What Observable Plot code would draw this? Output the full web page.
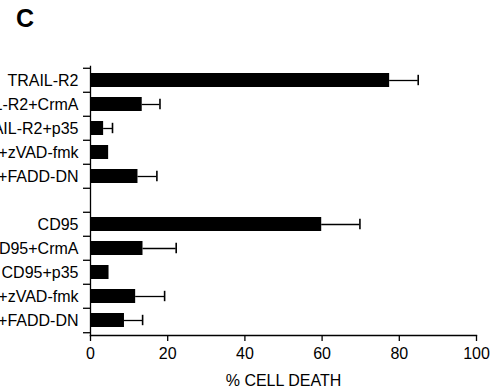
<!DOCTYPE html>
<html>
<head>
<meta charset="utf-8">
<script src="https://cdn.jsdelivr.net/npm/d3@7"></script>
<script src="https://cdn.jsdelivr.net/npm/@observablehq/plot@0.6"></script>
<style>
  html, body { margin: 0; padding: 0; background: white; }
  #wrap { position: relative; width: 502px; height: 392px; overflow: hidden; }
  #title { position: absolute; left: 16px; top: 4px; font: bold 25px "Liberation Sans", Arial, sans-serif; color: black; z-index: 2; }
  #chart { position: absolute; left: 0; top: 0; }
</style>
</head>
<body>
<div id="wrap">
  <div id="title">C</div>
  <div id="chart"></div>
</div>
<script>
// Categories in display order (the blank entry is the gap between the two groups)
const categories = [
  "TRAIL-R2", "TRAIL-R2+CrmA", "TRAIL-R2+p35", "TRAIL-R2+zVAD-fmk", "TRAIL-R2+FADD-DN",
  "",
  "CD95", "CD95+CrmA", "CD95+p35", "CD95+zVAD-fmk", "CD95+FADD-DN"
];
const barLabels = [
  "TRAIL-R2", "TRAIL-R2+CrmA", "TRAIL-R2+p35", "TRAIL-R2+zVAD-fmk", "TRAIL-R2+FADD-DN",
  "CD95", "CD95+CrmA", "CD95+p35", "CD95+zVAD-fmk", "CD95+FADD-DN"
];
const cellDeath = [77.5, 13.4, 3.4, 4.7, 12.3, 59.9, 13.6, 4.8, 11.7, 8.8];
const errorSD   = [7.4, 4.6, 2.3, 0, 4.9, 9.9, 8.6, 0, 7.5, 4.7];
const xTicks = [0, 20, 40, 60, 80, 100];
const xLabel = "% CELL DEATH";

const data = barLabels.map((label, i) => ({label, value: cellDeath[i], err: errorSD[i]}));
const withErr = data.filter(d => d.err > 0);

const W = 502, H = 392, mL = 90, mR = 26, mT = 66, mB = 57;
const step = (H - mT - mB) / categories.length;

const plot = Plot.plot({
  width: W, height: H,
  marginLeft: mL, marginRight: mR, marginTop: mT, marginBottom: mB,
  style: {fontFamily: "'Liberation Sans', Arial, sans-serif", fontSize: "16px", color: "black", background: "transparent", overflow: "visible"},
  x: {domain: [0, 100]},
  y: {domain: categories, paddingInner: 0.4, paddingOuter: 0.2},
  marks: [
    Plot.barX(data, {x: "value", y: "label", fill: "black"}),
    Plot.ruleY(withErr, {y: "label", x1: "value", x2: d => d.value + d.err, stroke: "black", strokeWidth: 1.3}),
    Plot.tickX(withErr, {x: d => d.value + d.err, y: "label", stroke: "black", strokeWidth: 1.6, insetTop: 1.8, insetBottom: 1.8}),
    Plot.frame({anchor: "left", stroke: "black", strokeWidth: 1.3}),
    Plot.frame({anchor: "bottom", stroke: "black", strokeWidth: 1.3}),
    Plot.axisY({tickSize: 0, tickPadding: 12, label: null, fill: "black"}),
    Plot.axisY({tickSize: 7, tickFormat: () => "", label: null, dy: -step / 2, strokeWidth: 1.3}),
    Plot.axisY([categories[categories.length - 1]], {tickSize: 7, tickFormat: () => "", label: null, dy: step / 2, strokeWidth: 1.3}),
    Plot.axisX({ticks: xTicks, tickSize: 6, tickPadding: 6, label: null, strokeWidth: 1.3, fill: "black"}),
    Plot.axisX({ticks: [], tickSize: 0, label: xLabel, labelArrow: "none", labelAnchor: "center", labelOffset: 50, dx: 9, fill: "black"})
  ]
});
document.getElementById("chart").appendChild(plot);
</script>
</body>
</html>
